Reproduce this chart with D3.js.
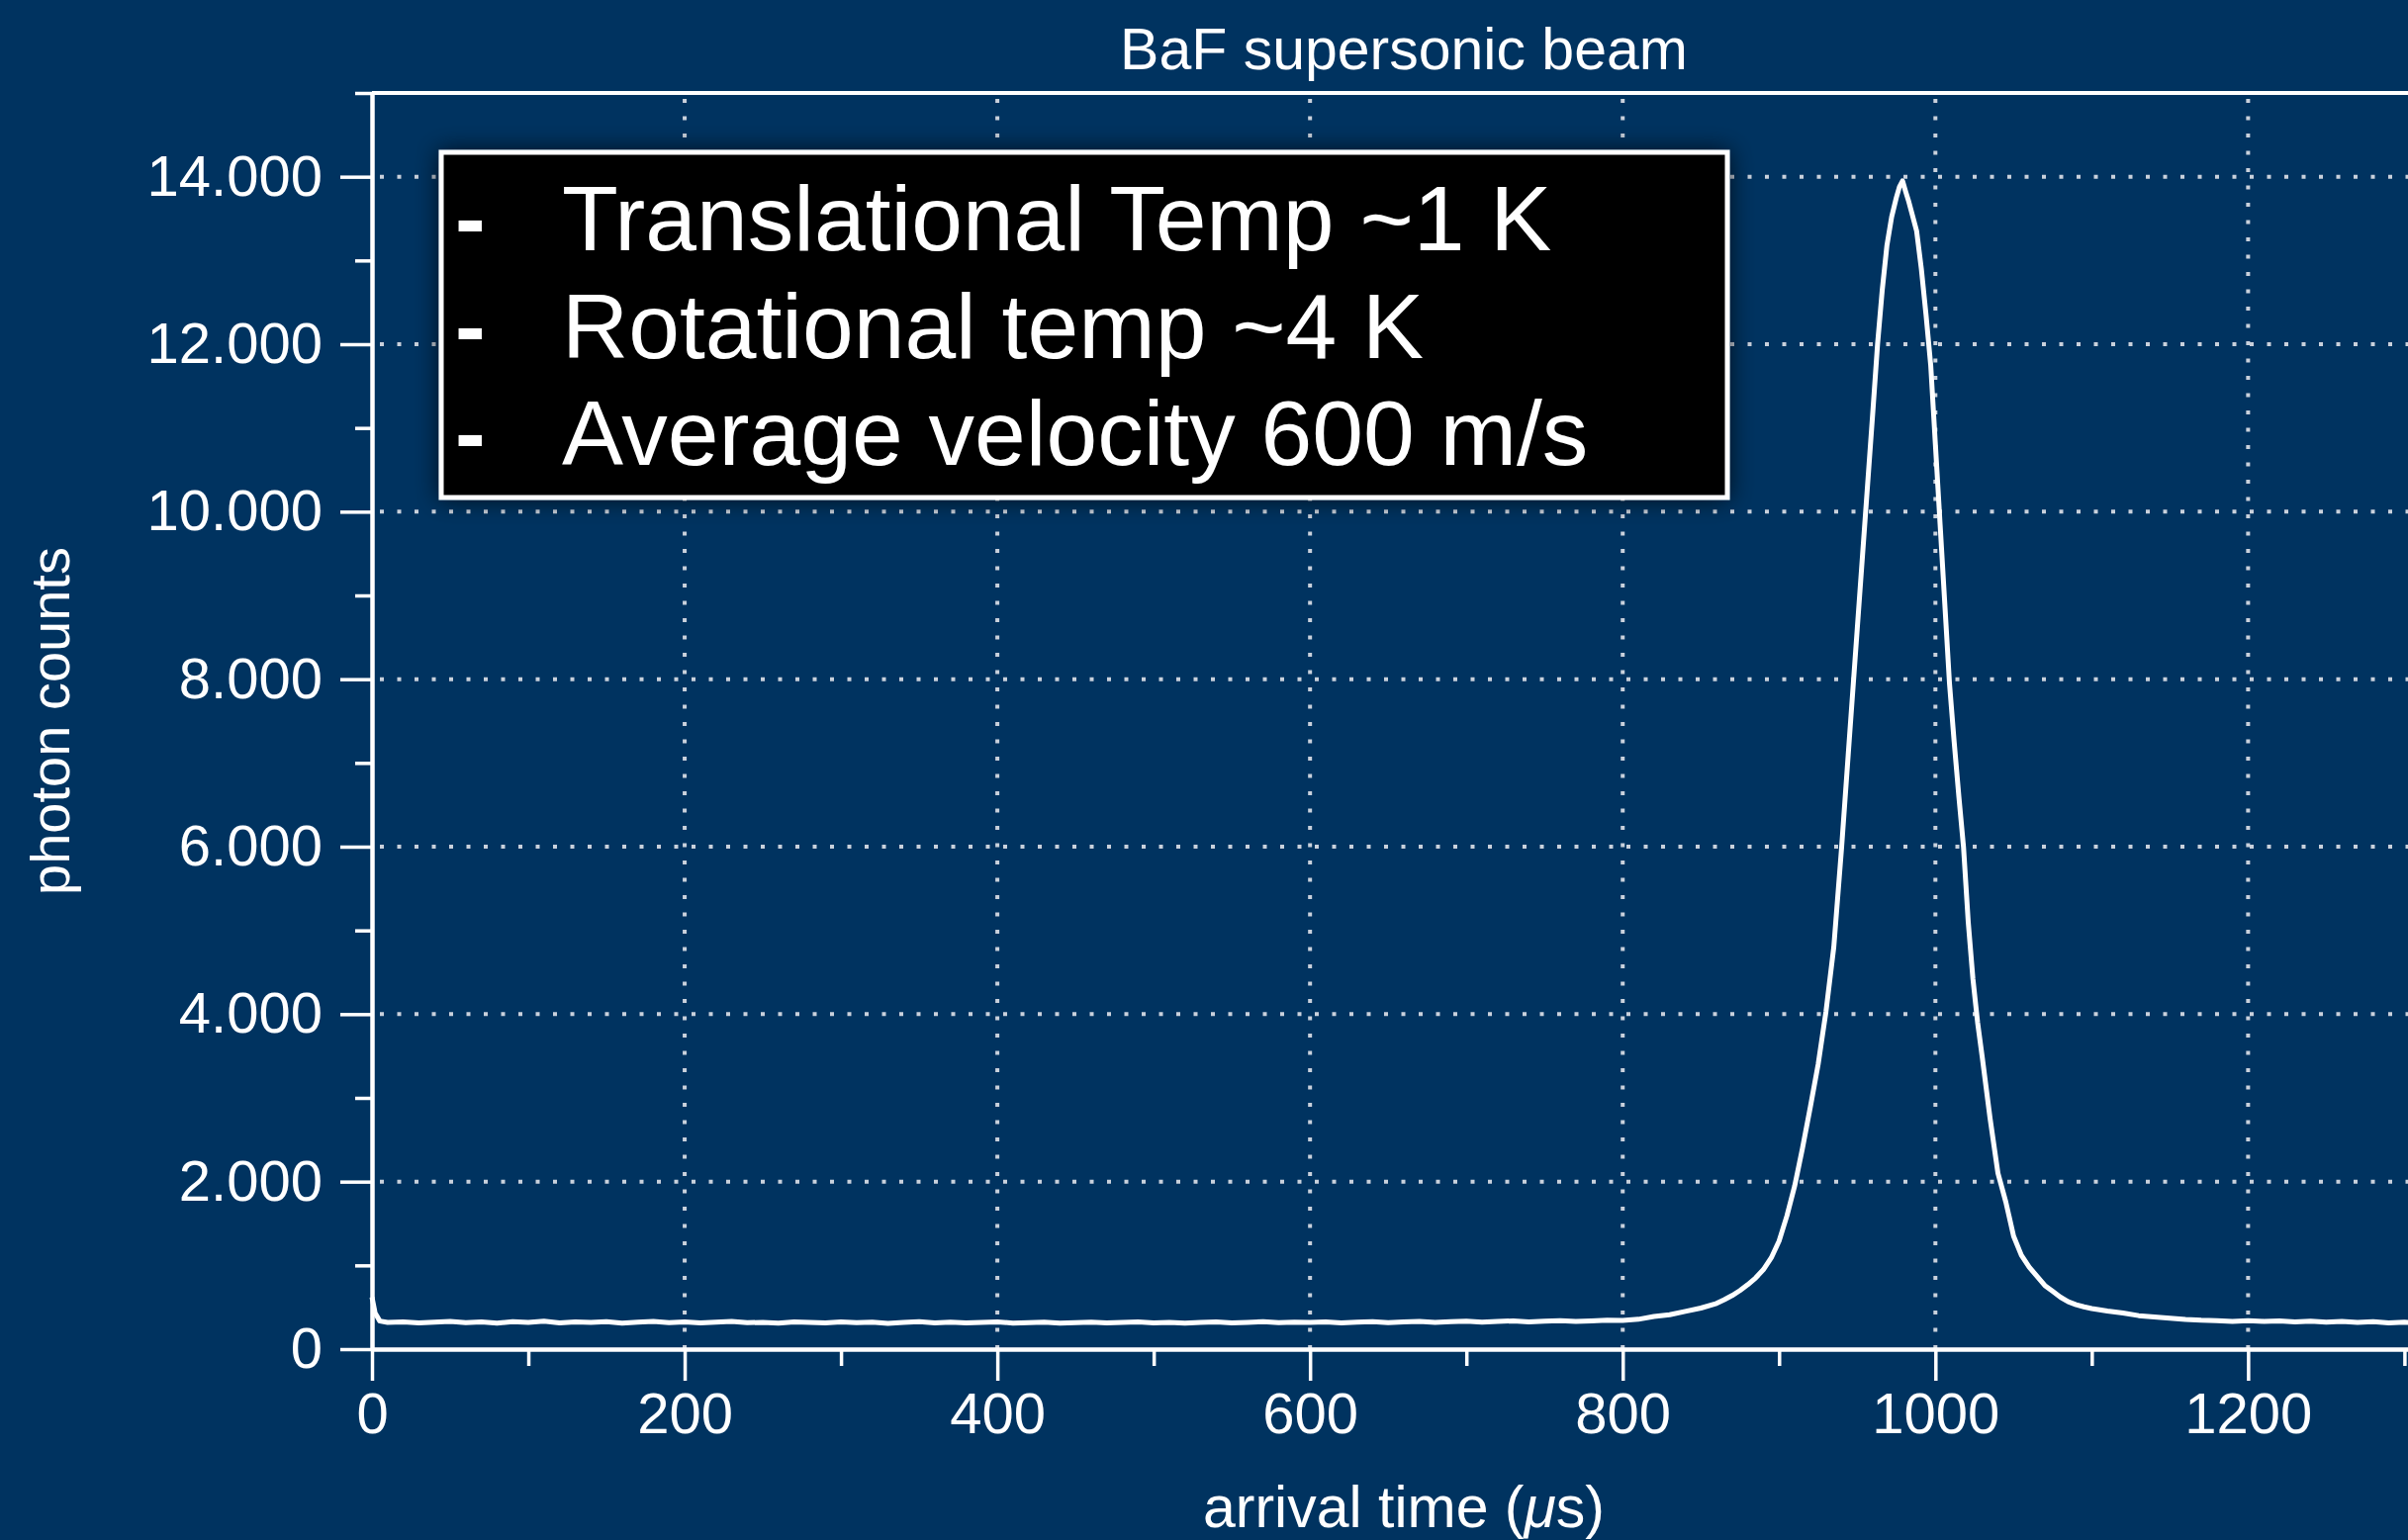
<!DOCTYPE html>
<head>
  <meta charset="utf-8">
  <script src="https://cdn.jsdelivr.net/npm/d3@7"></script>
  <style>
    body {
      margin:0;
      background:#003360;
    }
    svg text {
      font-family: "Liberation Sans", Arial, Helvetica, sans-serif;
      fill: #fff;
    }
  </style>
</head>

<body>
  <svg width="2434" height="1557"></svg>
  <script>
    // time of flight trace (us, counts)
    var arrivalTime = [
      0, 2, 5, 10, 20, 30, 40, 50, 60, 70, 80, 90, 100, 110, 120, 130, 140, 150, 160, 170,
      180, 190, 200, 210, 220, 230, 240, 250, 260, 270, 280, 290, 300, 310, 320, 330, 340, 350,
      360, 370, 380, 390, 400, 410, 420, 430, 440, 450, 460, 470, 480, 490, 500, 510, 520, 530,
      540, 550, 560, 570, 580, 590, 600, 610, 620, 630, 640, 650, 660, 670, 680, 690, 700, 710,
      720, 730, 740, 750, 760, 770, 780, 790, 800, 810,
      820, 830, 840, 850, 860, 865, 870, 875, 880, 885, 890, 895, 900, 905, 910, 915, 920, 925,
      930, 935, 940, 945, 950, 955, 960, 963, 966, 969, 972, 975, 977, 979, 981, 983, 985, 988,
      991, 994, 997, 1000, 1003, 1006, 1009, 1012, 1015, 1018, 1021, 1024, 1027, 1030, 1035,
      1040, 1045, 1050, 1055, 1060, 1065, 1070, 1075, 1080, 1085, 1090, 1095, 1100, 1110, 1120,
      1130, 1140, 1150, 1160, 1170, 1180, 1190, 1200, 1210, 1220, 1230, 1240, 1250, 1260, 1270,
      1280, 1290, 1300, 1310, 1320
    ];
    var photonCounts = [
      620, 430, 335, 318, 326, 312, 322, 330, 316, 324, 309, 327, 319, 333, 314, 325, 318, 329, 311, 321,
      332, 317, 324, 313, 322, 330, 315, 320, 309, 326, 318, 312, 325, 316, 322, 308, 319, 327,
      314, 321, 312, 318, 324, 311, 317, 323, 309, 316, 321, 312, 319, 326, 314, 320, 311, 318,
      325, 313, 319, 327, 315, 322, 318, 326, 314, 321, 329, 317, 324, 331, 320, 327, 334, 322,
      330, 337, 326, 334, 341, 331, 338, 346, 342, 356,
      390, 410, 450, 490, 545, 590, 640, 700, 770, 850, 950, 1090, 1290, 1590, 1950, 2400, 2890, 3400,
      4030, 4800, 5990, 7300, 8600, 9900, 11200, 12000, 12650, 13180, 13520, 13750, 13880, 13950, 13820, 13700, 13560, 13350,
      12900, 12350, 11750, 10800, 9850, 8900, 7950, 7250, 6600, 5990, 5100, 4420, 3900, 3480, 2750,
      2100, 1760, 1350, 1120, 980, 870, 760, 690, 620, 565, 530, 505, 485, 455, 430,
      400, 385, 370, 355, 345, 340, 330, 340, 332, 338, 326, 334, 322, 330, 318,
      327, 314, 322, 312, 318
    ];
    var xMajor = [0, 200, 400, 600, 800, 1000, 1200];
    var xMinor = [100, 300, 500, 700, 900, 1100, 1300];
    var yMajor = [0, 2000, 4000, 6000, 8000, 10000, 12000, 14000];
    var yMinor = [1000, 3000, 5000, 7000, 9000, 11000, 13000, 15000];
    var boxLines = ["Translational Temp ~1 K", "Rotational temp ~4 K", "Average velocity 600 m/s"];

    var svg = d3.select("svg"),
        width = +svg.attr("width"),
        height = +svg.attr("height");

    var x = d3.scaleLinear().domain([0, 1320]).range([376, 2462]);
    var y = d3.scaleLinear().domain([0, 15000]).range([1364, 94]);

    var fmt = d3.formatLocale({decimal: ",", thousands: ".", grouping: [3], currency: ["", ""]}).format(",d");

    svg.append("rect").attr("width", width).attr("height", height).attr("fill", "#003360");

    var defs = svg.append("defs");
    var shadow = defs.append("filter").attr("id", "shadow")
      .attr("x", "-10%").attr("y", "-20%").attr("width", "120%").attr("height", "140%");
    shadow.append("feDropShadow")
      .attr("dx", 0).attr("dy", 0).attr("stdDeviation", 12)
      .attr("flood-color", "#000").attr("flood-opacity", 0.7);

    // dotted grid
    var grid = svg.append("g")
      .attr("stroke", "#c9d1dc")
      .attr("stroke-width", 4)
      .attr("stroke-dasharray", "4,13.5");
    grid.selectAll(".gx")
      .data(xMajor.filter(function (d) { return d > 0; }))
      .enter().append("line")
        .attr("x1", function (d) { return x(d); })
        .attr("x2", function (d) { return x(d); })
        .attr("y1", y(15000) + 6)
        .attr("y2", y(0));
    grid.selectAll(".gy")
      .data(yMajor.filter(function (d) { return d > 0; }))
      .enter().append("line")
        .attr("x1", x(0) + 8)
        .attr("x2", width)
        .attr("y1", function (d) { return y(d); })
        .attr("y2", function (d) { return y(d); });

    // axes
    function styleAxis(g) {
      g.selectAll("path.domain").attr("stroke", "#fff").attr("stroke-width", 4);
      g.selectAll(".tick line").attr("stroke", "#fff").attr("stroke-width", 3.5);
      g.selectAll("text").attr("fill", "#fff").style("font-size", "58px")
        .style("font-family", "'Liberation Sans', Arial, sans-serif");
    }

    svg.append("g")
      .attr("transform", "translate(" + x(0) + ",0)")
      .call(d3.axisLeft(y).tickValues(yMinor).tickSize(17).tickSizeOuter(0).tickFormat(""))
      .call(styleAxis);
    svg.append("g")
      .attr("transform", "translate(" + x(0) + ",0)")
      .call(d3.axisLeft(y).tickValues(yMajor).tickSize(32).tickSizeOuter(0).tickPadding(18).tickFormat(fmt))
      .call(styleAxis);

    svg.append("g")
      .attr("transform", "translate(0," + y(0) + ")")
      .call(d3.axisBottom(x).tickValues(xMinor).tickSize(17).tickSizeOuter(0).tickFormat(""))
      .call(styleAxis);
    svg.append("g")
      .attr("transform", "translate(0," + y(0) + ")")
      .call(d3.axisBottom(x).tickValues(xMajor).tickSize(32).tickSizeOuter(0).tickPadding(12).tickFormat(d3.format("d")))
      .call(styleAxis);

    // top frame
    svg.append("line")
      .attr("x1", x(0)).attr("x2", width)
      .attr("y1", y(15000)).attr("y2", y(15000))
      .attr("stroke", "#fff").attr("stroke-width", 4);

    // info box
    var box = svg.append("g");
    box.append("rect")
      .attr("x", 446).attr("y", 154)
      .attr("width", 1300).attr("height", 349)
      .attr("fill", "#000")
      .attr("stroke", "#fff")
      .attr("stroke-width", 5)
      .attr("filter", "url(#shadow)");
    box.selectAll(".dash")
      .data(boxLines)
      .enter().append("text")
        .attr("x", 460)
        .attr("y", function (d, i) { return 253 + i * 108.5; })
        .style("font-size", "92px")
        .style("font-weight", "bold")
        .text("-");
    box.selectAll(".line")
      .data(boxLines)
      .enter().append("text")
        .attr("x", 568)
        .attr("y", function (d, i) { return 253 + i * 108.5; })
        .style("font-size", "93px")
        .text(function (d) { return d; });

    // trace
    var line = d3.line()
      .x(function (d) { return x(d[0]); })
      .y(function (d) { return y(d[1]); });
    svg.append("path")
      .datum(d3.zip(arrivalTime, photonCounts))
      .attr("d", line)
      .attr("fill", "none")
      .attr("stroke", "#fff")
      .attr("stroke-width", 5)
      .attr("stroke-linejoin", "round");

    // titles
    svg.append("text")
      .attr("x", (x(0) + x(1320)) / 2)
      .attr("y", 70)
      .attr("text-anchor", "middle")
      .style("font-size", "59px")
      .text("BaF supersonic beam");

    var xl = svg.append("text")
      .attr("x", (x(0) + x(1320)) / 2)
      .attr("y", 1544)
      .attr("text-anchor", "middle")
      .style("font-size", "59px");
    xl.append("tspan").text("arrival time (");
    xl.append("tspan").style("font-style", "italic").text("\u03bc");
    xl.append("tspan").text("s)");

    svg.append("text")
      .attr("transform", "translate(70," + (y(0) + y(15000)) / 2 + ") rotate(-90)")
      .attr("text-anchor", "middle")
      .style("font-size", "56px")
      .text("photon counts");
  </script>
</body>
